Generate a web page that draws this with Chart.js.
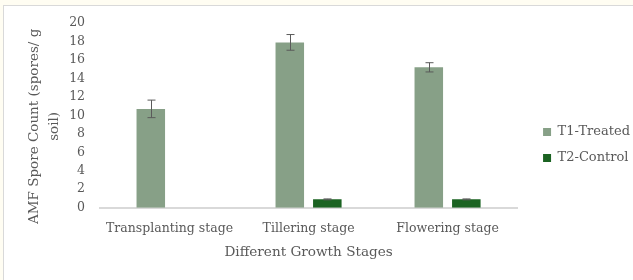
<!DOCTYPE html>
<html>
<head>
<meta charset="utf-8">
<script src="https://cdn.jsdelivr.net/npm/chart.js@4"></script>
<style>
  html, body { margin: 0; padding: 0; background: #fff; }
  #wrap { position: relative; width: 633px; height: 280px; background: #fffdf2; overflow: hidden; }
  #frame { position: absolute; left: 3px; top: 5px; width: 640px; height: 290px; background: #fff;
           border-left: 1px solid #d9d9d9; border-top: 1px solid #d9d9d9; }
  canvas { position: absolute; left: 0; top: 0; }
</style>
</head>
<body>
<div id="wrap">
  <div id="frame"></div>
  <canvas id="sporeChart" width="633" height="280"></canvas>
</div>
<script>
const stages = ['Transplanting stage', 'Tillering stage', 'Flowering stage'];
const treated = [10.7, 17.9, 15.2];
const treatedErr = [0.95, 0.85, 0.5];
const control = [null, 0.9, 0.9];
const controlErr = [0, 0.05, 0.05];

// draws the little error whiskers on top of each bar
const errorBars = {
  id: 'errorBars',
  afterDatasetsDraw(chart) {
    const ctx = chart.ctx;
    const y = chart.scales.y;
    const errs = [treatedErr, controlErr];
    ctx.save();
    ctx.strokeStyle = '#5a5a5a';
    ctx.lineWidth = 1;
    chart.data.datasets.forEach((ds, i) => {
      const meta = chart.getDatasetMeta(i);
      meta.data.forEach((bar, j) => {
        const v = ds.data[j];
        const e = errs[i][j];
        if (v == null || !e) return;
        const x = Math.round(bar.x) + 0.5;
        const top = y.getPixelForValue(v + e);
        const bot = y.getPixelForValue(v - e);
        ctx.beginPath();
        ctx.moveTo(x, top); ctx.lineTo(x, bot);
        ctx.moveTo(x - 4, top); ctx.lineTo(x + 4, top);
        ctx.moveTo(x - 4, bot); ctx.lineTo(x + 4, bot);
        ctx.stroke();
      });
    });
    ctx.restore();
  }
};

// leave a wider gap between the plot and the legend, like Excel does
const legendExtra = 6;
const legendShift = 13;
const legendGap = {
  id: 'legendGap',
  afterInit(chart) {
    const lg = chart.legend;
    if (!lg) return;
    const fit = lg.fit;
    lg.fit = function () { fit.apply(this, arguments); this.width += legendExtra; };
    const draw = lg.draw;
    lg.draw = function () {
      this.left += legendShift; this.top += 1; this.bottom += 1;
      draw.apply(this, arguments);
      this.left -= legendShift; this.top -= 1; this.bottom -= 1;
    };
  },
  // Excel centres the y title a bit lower than the plot
  afterLayout(chart) {
    const ys = chart.scales.y;
    if (ys._titleShifted) return;
    const dt = ys.drawTitle;
    ys.drawTitle = function () {
      const ctx = this.ctx;
      ctx.save();
      ctx.translate(0, 11);
      dt.apply(this, arguments);
      ctx.restore();
    };
    ys._titleShifted = true;
  }
};

const serif = 'DejaVu Serif';

new Chart(document.getElementById('sporeChart'), {
  type: 'bar',
  data: {
    labels: stages,
    datasets: [{
      label: 'T1-Treated',
      data: treated,
      backgroundColor: '#87a087',
      barPercentage: 0.76,
      categoryPercentage: 0.54
    }, {
      label: 'T2-Control',
      data: control,
      backgroundColor: '#1b6322',
      barPercentage: 0.76,
      categoryPercentage: 0.54
    }]
  },
  options: {
    responsive: false,
    animation: false,
    layout: { padding: { left: 20, top: 23, right: 0, bottom: 15 } },
    plugins: {
      legend: {
        position: 'right',
        labels: {
          boxWidth: 8, boxHeight: 8, padding: 13,
          color: '#595959',
          font: { family: serif, size: 13 }
        }
      },
      tooltip: { enabled: false }
    },
    scales: {
      x: {
        grid: { display: false, drawTicks: false },
        border: { color: '#d9d9d9', width: 2 },
        ticks: { color: '#595959', font: { family: serif, size: 12.5 }, padding: 14 },
        title: { display: true, text: 'Different Growth Stages', color: '#595959',
                 font: { family: serif, size: 13.6 }, padding: { top: -6 } }
      },
      y: {
        min: 0, max: 20,
        ticks: { stepSize: 2, color: '#595959', font: { family: serif, size: 12.5 }, padding: 15 },
        grid: { display: false, drawTicks: false },
        border: { display: false },
        title: { display: true, text: ['AMF Spore Count (spores/ g', 'soil)'], color: '#595959',
                 font: { family: serif, size: 13.5, lineHeight: 1.45 }, padding: { top: 5, bottom: -10 } }
      }
    }
  },
  plugins: [errorBars, legendGap]
});
</script>
</body>
</html>
